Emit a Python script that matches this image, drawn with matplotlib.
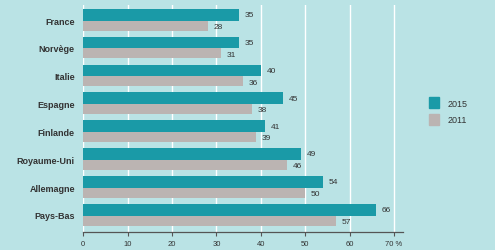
import matplotlib
matplotlib.use("Agg")
import matplotlib.pyplot as plt
import numpy as np
from matplotlib.patches import Patch

categories = ["France", "Norvège", "Italie", "Espagne", "Finlande", "Royaume-Uni", "Allemagne", "Pays-Bas"]
values_2015 = [35, 35, 40, 45, 41, 49, 54, 66]
values_2011 = [28, 31, 36, 38, 39, 46, 50, 57]
xticks = [0, 10, 20, 30, 40, 50, 60, 70]
xtick_labels = ["0", "10", "20", "30", "40", "50", "60", "70 %"]

bg = "#bae3e5"
teal = "#1a9aa7"
gray = "#bbb4b2"
txt = "#333333"

plt.rcParams['font.family'] = ['Liberation Sans', 'DejaVu Sans']

fig = plt.figure(figsize=(4.95, 2.51), dpi=100, facecolor=bg)
ax = fig.add_axes([0.168, 0.072, 0.646, 0.904], facecolor=bg)

y = np.arange(len(categories))
h1 = 0.42
h2 = 0.36
ax.barh(y - h1 / 2 + 0.02, values_2015, height=h1, color=teal, zorder=3)
ax.barh(y + h2 / 2 + 0.02, values_2011, height=h2, color=gray, zorder=3)

for i in range(len(categories)):
    ax.text(values_2015[i] + 1.3, y[i] - h1 / 2 + 0.02, str(values_2015[i]),
            va="center", ha="left", fontsize=6, color=txt, zorder=4)
    ax.text(values_2011[i] + 1.3, y[i] + h2 / 2 + 0.05, str(values_2011[i]),
            va="center", ha="left", fontsize=6, color=txt, zorder=4)

ax.set_yticks(y)
ax.set_yticklabels(categories, fontsize=6.5, fontweight="bold", color=txt)
ax.tick_params(axis="y", length=0, pad=6)
ax.set_ylim(7.61, -0.54)

ax.set_xlim(0, 72)
ax.set_xticks(xticks)
ax.set_xticklabels(xtick_labels, fontsize=5.5, color=txt)
ax.tick_params(axis="x", length=3, width=0.8, color="#555555", pad=3)
ax.xaxis.grid(True, color="white", linewidth=1.0, zorder=0)
ax.set_axisbelow(True)

for s in ["top", "right", "left"]:
    ax.spines[s].set_visible(False)
ax.spines["bottom"].set_color("#555555")
ax.spines["bottom"].set_linewidth(0.9)

handles = [Patch(color=teal), Patch(color=gray)]
fig.legend(handles, ["2015", "2011"], loc="upper left", bbox_to_anchor=(0.85, 0.64),
           frameon=False, fontsize=6.5, handlelength=1.1, handleheight=1.5,
           labelspacing=0.6, handletextpad=1.0, labelcolor=txt)

fig.savefig("out.png", dpi=100, facecolor=bg)
